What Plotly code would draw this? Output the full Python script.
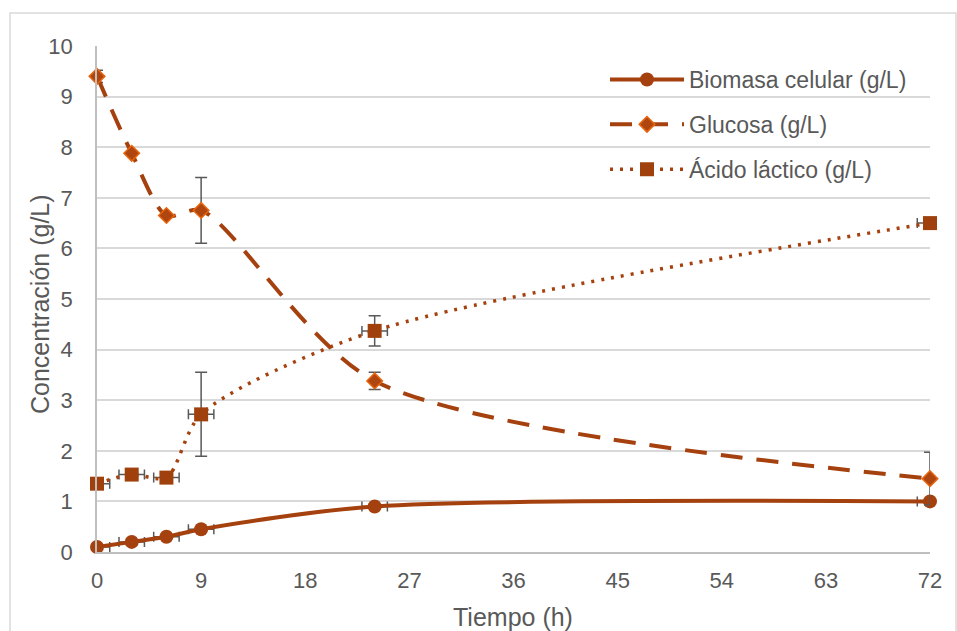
import plotly.graph_objects as go

# Data
tiempo = [0, 3, 6, 9, 24, 72]
biomasa = [0.1, 0.2, 0.3, 0.45, 0.9, 1.0]
glucosa = [9.4, 7.88, 6.65, 6.75, 3.38, 1.45]
glucosa_err = [0.12, 0.0, 0.0, 0.65, 0.17, 0.52]
lactico = [1.35, 1.53, 1.47, 2.72, 4.37, 6.5]
lactico_err = [0.0, 0.0, 0.0, 0.83, 0.3, 0.0]
tiempo_err_plus = [1.1, 1.1, 1.1, 1.1, 1.1, 0.0]
tiempo_err_minus = [0.0, 1.1, 1.1, 1.1, 1.1, 1.1]
x_ticks = [0, 9, 18, 27, 36, 45, 54, 63, 72]
y_ticks = list(range(0, 11))

LINE = "#A5410E"
ERR = "#595959"
TXT = "#595959"
FONT = "Liberation Sans, Arial, sans-serif"

fig = go.Figure()

fig.add_trace(go.Scatter(
    x=tiempo, y=biomasa, name="Biomasa celular (g/L)", mode="lines+markers",
    line=dict(color=LINE, width=4, shape="spline", smoothing=0.8),
    marker=dict(symbol="circle", size=14, color=LINE),
    error_x=dict(type="data", symmetric=False, array=tiempo_err_plus, arrayminus=tiempo_err_minus,
                 color=ERR, thickness=1.5, width=5),
    cliponaxis=False, legendgroup="a",
))
fig.add_trace(go.Scatter(
    x=tiempo, y=glucosa, name="Glucosa (g/L)", mode="lines+markers",
    line=dict(color=LINE, width=4, dash="22px,14px", shape="spline", smoothing=0.8),
    marker=dict(symbol="diamond", size=12, color="#B0460F", line=dict(color="#E8650F", width=1.5)),
    error_y=dict(type="data", array=glucosa_err, color=ERR, thickness=1.5, width=6),
    cliponaxis=False, legendgroup="b",
))
fig.add_trace(go.Scatter(
    x=tiempo, y=lactico, name="Ácido láctico (g/L)", mode="lines+markers",
    line=dict(color=LINE, width=3.5, dash="3px,7px", shape="spline", smoothing=0.8),
    marker=dict(symbol="square", size=14, color="#A0410D"),
    error_y=dict(type="data", array=lactico_err, color=ERR, thickness=1.5, width=6),
    error_x=dict(type="data", symmetric=False, array=tiempo_err_plus, arrayminus=tiempo_err_minus,
                 color=ERR, thickness=1.5, width=5),
    cliponaxis=False, legendgroup="c",
))

W, H = 957, 631
L, R, T, B = 97, 27, 46, 79
pw, ph = W - L - R, H - T - B

def px(x):
    return (x - L) / pw

def py(y):
    return (H - B - y) / ph

fig.add_shape(type="rect", xref="paper", yref="paper",
              x0=px(10), x1=px(956), y0=py(645), y1=py(13),
              line=dict(color="#D9D9D9", width=1.5), fillcolor="rgba(0,0,0,0)", layer="below")

fig.add_annotation(text="Tiempo (h)", xref="paper", yref="paper",
                   x=px(513), y=py(617), xanchor="center", yanchor="middle",
                   showarrow=False, font=dict(size=25, color=TXT, family=FONT))
fig.add_annotation(text="Concentración (g/L)", xref="paper", yref="paper",
                   x=px(40), y=py(304), xanchor="center", yanchor="middle", textangle=-90,
                   showarrow=False, font=dict(size=25, color=TXT, family=FONT))

fig.update_layout(
    width=W, height=H,
    margin=dict(l=L, r=R, t=T, b=B, autoexpand=False),
    paper_bgcolor="white", plot_bgcolor="white",
    font=dict(family=FONT, color=TXT, size=22),
    showlegend=True,
    legend=dict(x=px(605), y=py(58), xanchor="left", yanchor="top",
                bgcolor="rgba(0,0,0,0)", font=dict(size=23, color=TXT),
                traceorder="grouped", tracegroupgap=12, itemwidth=74),
    xaxis=dict(range=[0, 72], tickvals=x_ticks, showgrid=False, zeroline=False,
               showline=True, linecolor="#BFBFBF", linewidth=1.5, ticks="",
               ticklabelstandoff=8, automargin=False,
               tickfont=dict(size=22, color=TXT)),
    yaxis=dict(range=[0, 10], tickvals=y_ticks, showgrid=True, gridcolor="#D9D9D9", gridwidth=1.5,
               zeroline=False, showline=True, linecolor="#BFBFBF", linewidth=1.5, ticks="",
               ticklabelstandoff=18, automargin=False,
               tickfont=dict(size=22, color=TXT)),
)

fig.write_html("out.html")
